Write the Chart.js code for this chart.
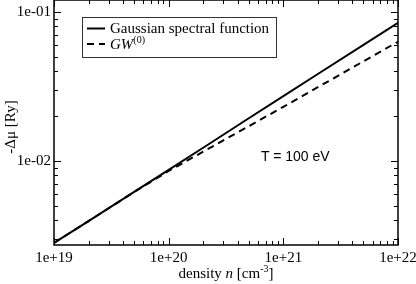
<!DOCTYPE html>
<html>
<head>
<meta charset="utf-8">
<script src="https://cdn.jsdelivr.net/npm/chart.js@4/dist/chart.umd.min.js"></script>
<style>
body { margin: 0; background: #fff; }
#wrap { position: relative; width: 416px; height: 284px; font-family: "Liberation Serif", "Times New Roman", serif; color: #000; }
#wrap div { position: absolute; white-space: nowrap; }
.leg { left: 110px; font-size: 15px; line-height: 16px; }
.leg sup, .xtitle sup { font-size: 10px; vertical-align: 6px; line-height: 0; }
.xtitle { left: 54px; width: 344px; top: 264px; text-align: center; font-size: 15px; line-height: 18px; }
.ytitle { left: -50px; width: 120px; top: 118px; text-align: center; font-size: 15px; line-height: 18px; transform: rotate(-90deg); }
.temp { left: 261px; top: 147px; font-family: "Liberation Sans", Arial, sans-serif; font-size: 14px; line-height: 18px; }
</style>
</head>
<body>
<div id="wrap">
  <canvas id="js-muChart" width="416" height="284"></canvas>
  <div class="leg" style="top:20px;">Gaussian spectral function</div>
  <div class="leg" style="top:36px;"><i>GW</i><sup>(0)</sup></div>
  <div class="temp">T = 100 eV</div>
  <div class="xtitle">density <i>n</i> [cm<sup>-3</sup>]</div>
  <div class="ytitle">-&Delta;&mu; [Ry]</div>
</div>
<script>
// data
var density = [1e19, 2e19, 5e19, 1e20, 2e20, 5e20, 1e21, 2e21, 5e21, 1e22];
var muGauss = [0.00282, 0.00395, 0.0062, 0.00871, 0.01227, 0.01936, 0.0273, 0.0384, 0.0603, 0.0847];
var muGW0   = [0.00282, 0.00395, 0.0062, 0.00857, 0.01156, 0.01714, 0.0231, 0.0313, 0.0467, 0.0632];

var xTickValues = [1e19, 1e20, 1e21, 1e22];
var xTickLabels = ['1e+19', '1e+20', '1e+21', '1e+22'];
var yTickValues = [0.01, 0.1];
var yTickLabels = ['1e-02', '1e-01'];

function points(ys) {
    return density.map(function (n, i) { return { x: n, y: ys[i] }; });
}

//frame, inward ticks on all four sides, legend box
var frameTicks = {
    id: 'frameTicks',
    afterDraw: function (chart) {
        var ctx = chart.ctx, a = chart.chartArea;
        var xs = chart.scales.x, ys = chart.scales.y;
        ctx.save();
        ctx.strokeStyle = '#000';
        ctx.lineWidth = 1;

        function decadeTicks(scale, cb) {
            var lo = Math.floor(Math.log10(scale.min)), hi = Math.ceil(Math.log10(scale.max));
            for (var d = lo; d <= hi; d++) {
                for (var m = 1; m <= 9; m++) {
                    var v = m * Math.pow(10, d);
                    if (v < scale.min * 0.999 || v > scale.max * 1.001) continue;
                    cb(Math.round(scale.getPixelForValue(v)) + 0.5, m === 1 ? 7 : 4);
                }
            }
        }
        ctx.beginPath();
        decadeTicks(xs, function (px, len) {
            ctx.moveTo(px, a.bottom); ctx.lineTo(px, a.bottom - len);
            ctx.moveTo(px, a.top); ctx.lineTo(px, a.top + len);
        });
        decadeTicks(ys, function (py, len) {
            ctx.moveTo(a.left, py); ctx.lineTo(a.left + len, py);
            ctx.moveTo(a.right, py); ctx.lineTo(a.right - len, py);
        });
        ctx.stroke();

        ctx.lineWidth = 1.5;
        ctx.strokeRect(a.left, a.top, a.right - a.left, a.bottom - a.top);

        // legend
        ctx.lineWidth = 1;
        ctx.strokeStyle = '#333';
        ctx.strokeRect(82.5, 17.5, 194, 40);
        chart.data.datasets.forEach(function (ds, i) {
            var y = 28.5 + i * 15.5;
            ctx.beginPath();
            ctx.strokeStyle = '#000';
            ctx.lineWidth = ds.borderWidth;
            ctx.setLineDash(ds.borderDash || []);
            ctx.moveTo(87, y); ctx.lineTo(105, y);
            ctx.stroke();
        });
        ctx.restore();
    }
};

var ctx = document.getElementById('js-muChart').getContext('2d');
var myChart = new Chart(ctx, {
    type: 'line',
    data: {
        datasets: [{
            label: 'Gaussian spectral function',
            data: points(muGauss),
            borderColor: '#000',
            borderWidth: 2,
            pointRadius: 0,
            tension: 0,
            fill: false
        },
        {
            label: 'GW(0)',
            data: points(muGW0),
            borderColor: '#000',
            borderWidth: 2,
            borderDash: [7, 5],
            pointRadius: 0,
            tension: 0,
            fill: false
        }]
    },
    options: {
        responsive: false,
        animation: false,
        devicePixelRatio: 1,
        layout: { padding: { left: 0, right: 18, top: 0, bottom: 0 } },
        plugins: {
            legend: { display: false },
            tooltip: { enabled: false }
        },
        scales: {
            x: {
                type: 'logarithmic',
                min: 1e19,
                max: 1e22,
                grid: { display: false, drawTicks: false },
                border: { display: false },
                afterBuildTicks: function (axis) {
                    axis.ticks = xTickValues.map(function (v) { return { value: v }; });
                },
                afterFit: function (axis) {
                    axis.height = 39;
                    axis.paddingLeft = 0; axis.paddingRight = 0;
                },
                ticks: {
                    autoSkip: false,
                    maxRotation: 0,
                    padding: 4,
                    color: '#000',
                    font: { family: '"Liberation Serif", serif', size: 15 },
                    callback: function (v) { return xTickLabels[xTickValues.indexOf(v)]; }
                }
            },
            y: {
                type: 'logarithmic',
                min: 0.00273,
                max: 0.1205,
                grid: { display: false, drawTicks: false },
                border: { display: false },
                afterBuildTicks: function (axis) {
                    axis.ticks = yTickValues.map(function (v) { return { value: v }; });
                },
                afterFit: function (axis) {
                    axis.width = 54;
                    axis.paddingTop = 0; axis.paddingBottom = 0;
                },
                ticks: {
                    autoSkip: false,
                    padding: 3,
                    color: '#000',
                    font: { family: '"Liberation Serif", serif', size: 15 },
                    callback: function (v) { return yTickLabels[yTickValues.indexOf(v)]; }
                }
            }
        }
    },
    plugins: [frameTicks]
});
</script>
</body>
</html>
